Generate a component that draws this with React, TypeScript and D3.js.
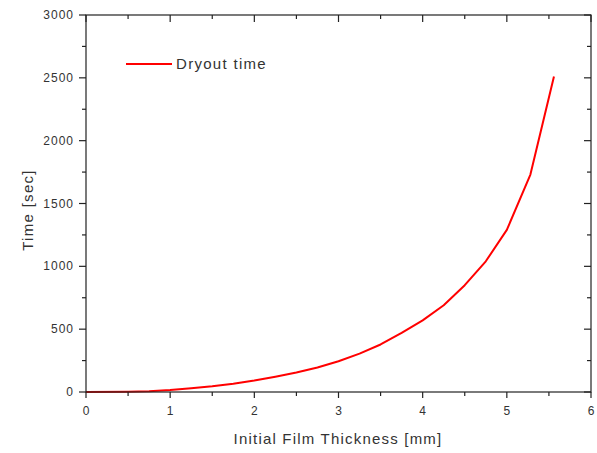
import React from "react";
import * as d3 from "d3";

const thickness = [0, 0.5, 0.75, 1.0, 1.25, 1.5, 1.75, 2.0, 2.25, 2.5, 2.75, 3.0, 3.25, 3.5, 3.75, 4.0, 4.25, 4.5, 4.75, 5.0, 5.28, 5.56];
const dryoutTime = [0, 2, 6, 16, 30, 45, 66, 92, 122, 155, 195, 245, 305, 378, 470, 570, 690, 850, 1040, 1290, 1730, 2510];
const xTicks = [0, 1, 2, 3, 4, 5, 6];
const yTicks = [0, 500, 1000, 1500, 2000, 2500, 3000];
const xMinor = [0.5, 1.5, 2.5, 3.5, 4.5, 5.5];
const yMinor = [250, 750, 1250, 1750, 2250, 2750];

export default function App() {
  const W = 597, H = 453;
  const left = 86, right = 591, top = 15, bottom = 392;
  const x = d3.scaleLinear().domain([0, 6]).range([left, right]);
  const y = d3.scaleLinear().domain([0, 3000]).range([bottom, top]);
  const pts = thickness.map((t, i) => [t, dryoutTime[i]] as [number, number]);
  const line = d3.line<[number, number]>().x(d => x(d[0])).y(d => y(d[1]));
  const axisColor = "#222";
  const font = "'Liberation Sans', Arial, sans-serif";
  return (
    <svg width={W} height={H} style={{ position: "absolute", left: 0, top: 0, background: "#fff" }}>
      <rect x={0} y={0} width={W} height={H} fill="#fff" />
      <path d={line(pts) || ""} fill="none" stroke="#ff0000" strokeWidth={2} strokeLinejoin="round" />
      <rect x={left} y={top} width={right - left} height={bottom - top} fill="none" stroke={axisColor} strokeWidth={1.2} />
      {yTicks.map(v => (
        <g key={"yl" + v}>
          <line x1={left - 7} x2={left} y1={y(v)} y2={y(v)} stroke={axisColor} strokeWidth={1.2} />
          <text x={left - 12} y={y(v) + 4} textAnchor="end" fontSize={12} letterSpacing={1} fill="#333" fontFamily={font}>{v}</text>
          <line x1={right - 7} x2={right} y1={y(v)} y2={y(v)} stroke={axisColor} strokeWidth={1.2} />
        </g>
      ))}
      {yMinor.map(v => (
        <g key={"ym" + v}>
          <line x1={left - 4} x2={left} y1={y(v)} y2={y(v)} stroke={axisColor} strokeWidth={1.2} />
          <line x1={right - 4} x2={right} y1={y(v)} y2={y(v)} stroke={axisColor} strokeWidth={1.2} />
        </g>
      ))}
      {xTicks.map(v => (
        <g key={"xt" + v}>
          <line x1={x(v)} x2={x(v)} y1={bottom} y2={bottom + 6} stroke={axisColor} strokeWidth={1.2} />
          <line x1={x(v)} x2={x(v)} y1={top} y2={top + 7} stroke={axisColor} strokeWidth={1.2} />
          <text x={x(v)} y={bottom + 23} textAnchor="middle" fontSize={12} fill="#333" fontFamily={font}>{v}</text>
        </g>
      ))}
      {xMinor.map(v => (
        <g key={"xm" + v}>
          <line x1={x(v)} x2={x(v)} y1={bottom} y2={bottom + 4} stroke={axisColor} strokeWidth={1.2} />
          <line x1={x(v)} x2={x(v)} y1={top} y2={top + 4} stroke={axisColor} strokeWidth={1.2} />
        </g>
      ))}
      <text x={338} y={444} textAnchor="middle" fontSize={15} letterSpacing={1.2} fill="#333" fontFamily={font}>Initial Film Thickness [mm]</text>
      <text transform={`translate(33, 210) rotate(-90)`} textAnchor="middle" fontSize={15} letterSpacing={1.3} fill="#333" fontFamily={font}>Time [sec]</text>
      <line x1={126} x2={172} y1={64} y2={64} stroke="#ff0000" strokeWidth={2} />
      <text x={176} y={69} fontSize={15} letterSpacing={1.3} fill="#333" fontFamily={font}>Dryout time</text>
    </svg>
  );
}
